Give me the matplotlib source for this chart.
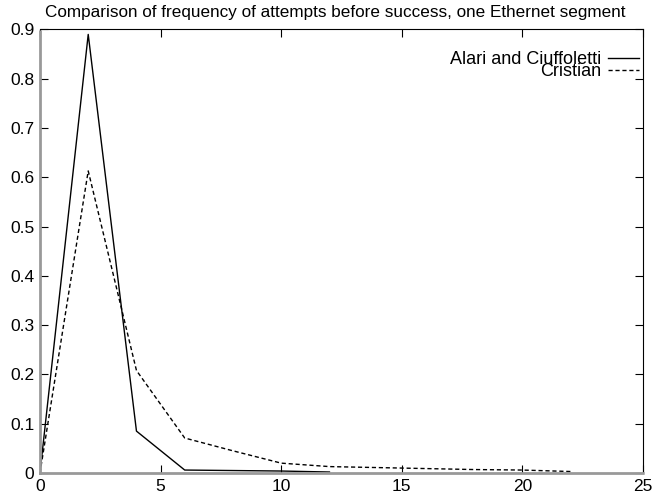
import numpy as np
import matplotlib.pyplot as plt

plt.rcParams['font.family'] = ['Liberation Sans', 'DejaVu Sans']

# attempts before success
x_alari = [0, 2, 4, 6, 8, 10, 12]
y_alari = [0, 0.89, 0.085, 0.006, 0.005, 0.004, 0.002]

x_cristian = [0, 2, 4, 6, 8, 10, 12, 14, 16, 18, 20, 22]
y_cristian = [0, 0.613, 0.208, 0.071, 0.045, 0.020, 0.013, 0.011, 0.009, 0.007, 0.006, 0.003]

fig = plt.figure(figsize=(6.52, 4.98), dpi=100)
ax = fig.add_axes([0.0613, 0.0502, 0.925, 0.8906])

ax.plot(x_alari, y_alari, color='black', lw=1.0, label='Alari and Ciuffoletti')
ax.plot(x_cristian, y_cristian, color='black', lw=1.0, linestyle=(0, (3, 2)), label='Cristian')

ax.set_xlim(0, 25)
ax.set_ylim(0, 0.9)
ax.set_xticks(np.arange(0, 26, 5))
ax.set_yticks(np.arange(0, 0.91, 0.1))
ax.set_yticklabels(['0'] + ['%.1f' % v for v in np.arange(0.1, 0.91, 0.1)])
ax.tick_params(direction='in', top=True, right=True, length=6, width=0.8,
               labelsize=12.5, pad=4)

# gnuplot-ish hatched left/bottom borders
for side in ('left', 'bottom'):
    ax.spines[side].set_color('#999999')
    ax.spines[side].set_linewidth(2.0)
    ax.spines[side].set_linestyle((0, (1, 1)))

ax.set_title('Comparison of frequency of attempts before success, one Ethernet segment',
             fontsize=12.3, pad=9, x=0.49)

leg = ax.legend(loc='upper right', bbox_to_anchor=(1.011, 0.975), frameon=False,
                markerfirst=False, fontsize=13, handlelength=1.7, labelspacing=-0.3,
                borderaxespad=0.2, handletextpad=0.4)

fig.savefig('out.png', dpi=100)
